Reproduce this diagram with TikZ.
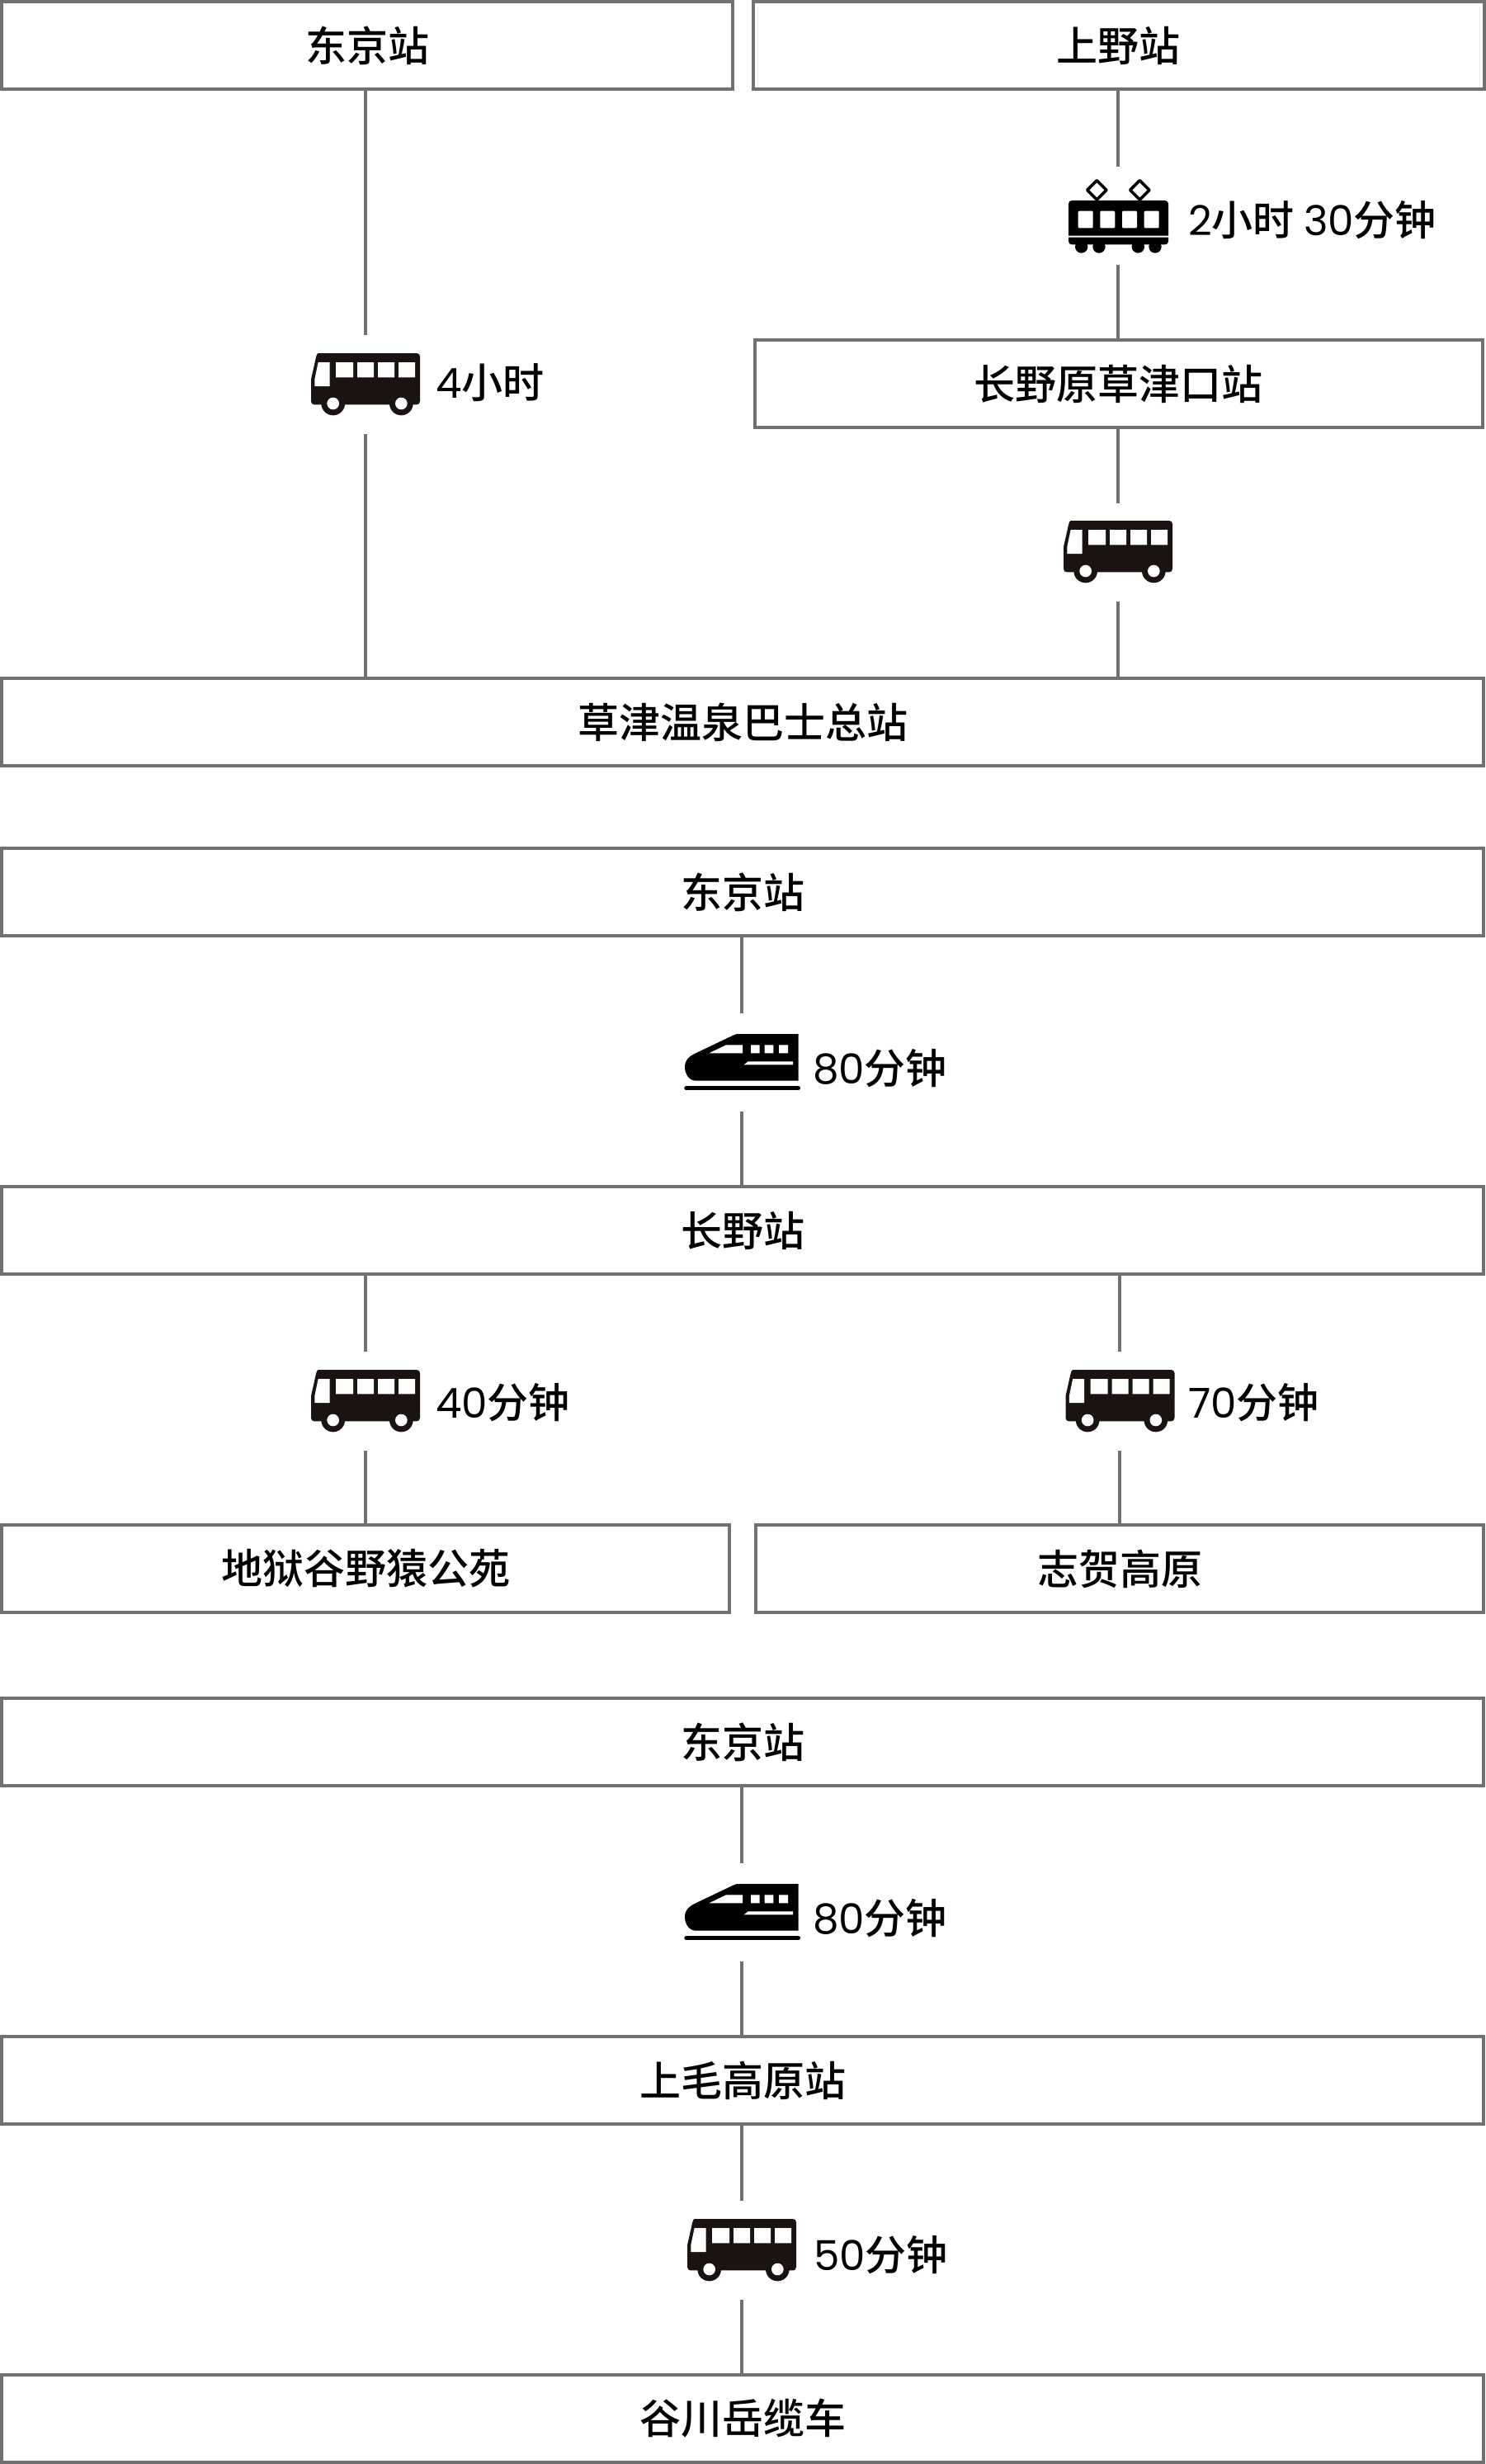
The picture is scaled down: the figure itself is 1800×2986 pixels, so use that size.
\documentclass[tikz,border=0pt]{standalone}
\usepackage{fontspec}
\setmainfont{Noto Sans CJK SC}
\newfontfamily\cjkm{Noto Sans CJK SC Medium}
\newfontfamily\digf{Poppins}
\definecolor{linegray}{HTML}{717171}
\definecolor{busblack}{HTML}{1A1311}
\tikzset{
  x=1pt,y=-1pt,
  stationbox/.style={draw=linegray,line width=4pt,fill=white,rectangle,outer sep=0pt,inner sep=0pt,minimum height=106pt,font=\fontsize{50}{60}\selectfont\cjkm},
  linklabel/.style={anchor=base west,inner sep=0pt,outer sep=0pt,font=\fontsize{50}{60}\selectfont\cjkm},
  gapnode/.style={rectangle,inner sep=0pt,outer sep=0pt,minimum width=2pt},
  link/.style={draw=linegray,line width=4pt},
  bus/.pic={
    \begin{scope}[scale=1/3]
    \fill[busblack] (26,0) .. controls (22,0) and (20,8) .. (18,15) -- (0,95) -- (0,175) .. controls (0,183) and (6,187) .. (12,187) -- (384,187) .. controls (390,187) and (396,183) .. (396,175) -- (396,12) .. controls (396,5) and (391,0) .. (384,0) -- cycle;
    \fill[busblack] (80,183) circle (43) (328,183) circle (43);
    \fill[white] (80,183) circle (22) (328,183) circle (22);
    \fill[white] (26,33) -- (68,33) -- (68,120) -- (13,120) -- (13,95) -- cycle;
    \fill[white] (90,33) rectangle (153,88) (168,33) rectangle (228,88) (243,33) rectangle (303,88) (318,33) rectangle (378,88);
    \end{scope}
  },
  shinkansen/.pic={
    \begin{scope}[scale=1/3]
    \fill[black] (190,0) -- (413,0) -- (413,170) -- (40,170) .. controls (15,170) and (0,145) .. (0,120) .. controls (0,95) and (15,82) .. (35,72) -- (180,3) -- cycle;
    \fill[white] (88,70) -- (150,40) -- (210,40) -- (210,70) -- cycle;
    \fill[white] (240,40) rectangle (272,70) (290,40) rectangle (322,70) (342,40) rectangle (375,70);
    \fill[white] (215,112) -- (230,100) -- (393,100) -- (393,112) -- cycle;
    \draw[black,line width=5.5pt,line cap=round] (6,197) -- (412,197);
    \end{scope}
  },
  tram/.pic={
    \begin{scope}[scale=1/3]
    \draw[black,line width=3.6pt,line join=round] (103,-73) -- (138,-38) -- (103,-3) -- (68,-38) -- cycle;
    \draw[black,line width=3.6pt,line join=round] (259,-73) -- (294,-38) -- (259,-3) -- (224,-38) -- cycle;
    \fill[black] (12,0) -- (351,0) .. controls (358,0) and (363,5) .. (363,12) -- (363,128) -- (0,128) -- (0,12) .. controls (0,5) and (5,0) .. (12,0) -- cycle;
    \fill[black] (0,134) -- (363,134) -- (363,148) .. controls (363,155) and (358,160) .. (351,160) -- (12,160) .. controls (5,160) and (0,155) .. (0,148) -- cycle;
    \fill[black] (47,168) circle (23) (111,168) circle (23) (253,168) circle (23) (315,168) circle (23);
    \fill[white,rounded corners=1.2pt] (35,38) rectangle (89,100);
    \fill[white,rounded corners=1.2pt] (115,38) rectangle (169,100);
    \fill[white,rounded corners=1.2pt] (195,38) rectangle (249,100);
    \fill[white,rounded corners=1.2pt] (275,38) rectangle (329,100);
    \end{scope}
  }
}
\begin{document}
\begin{tikzpicture}
\useasboundingbox[fill=white] (0,0) rectangle (1800,2986);
% station boxes
\node[stationbox,minimum width=886pt] (a1) at (445,55) {东京站};
\node[stationbox,minimum width=886pt] (a2) at (1355.5,55) {上野站};
\node[stationbox,minimum width=882pt] (a3) at (1355.5,465) {长野原草津口站};
\node[stationbox,minimum width=1796pt] (a4) at (900,875) {草津温泉巴士总站};
\node[stationbox,minimum width=1796pt] (b1) at (900,1081) {东京站};
\node[stationbox,minimum width=1796pt] (b2) at (900,1491) {长野站};
\node[stationbox,minimum width=882pt] (b3) at (443,1901) {地狱谷野猿公苑};
\node[stationbox,minimum width=882pt] (b4) at (1357,1901) {志贺高原};
\node[stationbox,minimum width=1796pt] (c1) at (900,2111) {东京站};
\node[stationbox,minimum width=1796pt] (c2) at (900,2521) {上毛高原站};
\node[stationbox,minimum width=1796pt] (c3) at (900,2931) {谷川岳缆车};
% gaps holding the icons
\node[gapnode,minimum height=120pt] (g1) at (443,466) {};
\node[gapnode,minimum height=119pt] (g2) at (1355,261.5) {};
\node[gapnode,minimum height=119pt] (g3) at (1355,669.5) {};
\node[gapnode,minimum height=119pt] (g4) at (899,1287.5) {};
\node[gapnode,minimum height=120pt] (g5) at (443,1698) {};
\node[gapnode,minimum height=120pt] (g6) at (1357,1698) {};
\node[gapnode,minimum height=119pt] (g7) at (899,2317.5) {};
\node[gapnode,minimum height=120pt] (g8) at (899,2727) {};
% connectors
\draw[link] (a1.south -| g1) -- (g1.north);
\draw[link] (g1.south) -- (a4.north -| g1);
\draw[link] (a2.south -| g2) -- (g2.north);
\draw[link] (g2.south) -- (a3.north -| g2);
\draw[link] (a3.south -| g3) -- (g3.north);
\draw[link] (g3.south) -- (a4.north -| g3);
\draw[link] (b1.south -| g4) -- (g4.north);
\draw[link] (g4.south) -- (b2.north -| g4);
\draw[link] (b2.south -| g5) -- (g5.north);
\draw[link] (g5.south) -- (b3.north -| g5);
\draw[link] (b2.south -| g6) -- (g6.north);
\draw[link] (g6.south) -- (b4.north -| g6);
\draw[link] (c1.south -| g7) -- (g7.north);
\draw[link] (g7.south) -- (c2.north -| g7);
\draw[link] (c2.south -| g8) -- (g8.north);
\draw[link] (g8.south) -- (c3.north -| g8);
% icons
\pic at (377,428) {bus};
\pic at (1295,243) {tram};
\pic at (1289,631) {bus};
\pic at (830,1253) {shinkansen};
\pic at (377,1660) {bus};
\pic at (1291.5,1660) {bus};
\pic at (830,2283) {shinkansen};
\pic at (833,2689) {bus};
% labels
\node[linklabel] (l1) at (528,482) {{\digf 4}小时};
\node[linklabel] (l2) at (1440,285) {{\digf 2}小时 {\digf 30}分钟};
\node[linklabel] (l3) at (985,1313) {{\digf 80}分钟};
\node[linklabel] (l4) at (528,1718) {{\digf 40}分钟};
\node[linklabel] (l5) at (1440,1718) {{\digf 70}分钟};
\node[linklabel] (l6) at (985,2343) {{\digf 80}分钟};
\node[linklabel] (l7) at (986,2751) {{\digf 50}分钟};
\end{tikzpicture}
\end{document}
